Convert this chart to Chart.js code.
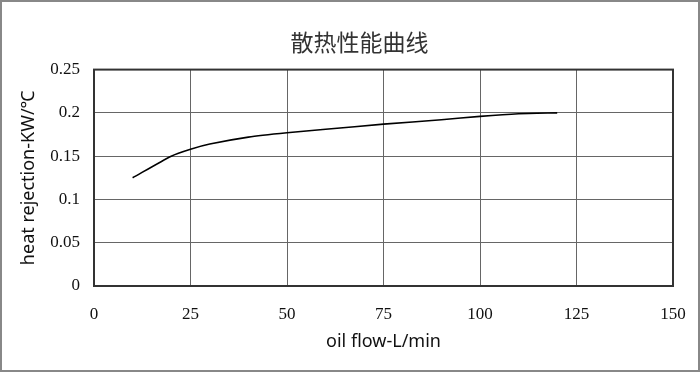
<!DOCTYPE html>
<html>
<head>
<meta charset="utf-8">
<script src="https://cdn.jsdelivr.net/npm/chart.js@4/dist/chart.umd.min.js"></script>
<style>
  html, body { margin: 0; padding: 0; background: #fff; }
  #wrap { width: 700px; height: 372px; position: relative; }
</style>
</head>
<body>
<div id="wrap"><canvas id="grafico"></canvas></div>
<script>
// values
const flow = [10, 20, 25, 30, 40, 50, 60, 75, 90, 100, 110, 120]
const rejection = [0.125, 0.15, 0.158, 0.164, 0.172, 0.177, 0.181, 0.187, 0.192, 0.196, 0.199, 0.2]
const xTicks = [0, 25, 50, 75, 100, 125, 150]
const yTicks = [0, 0.05, 0.1, 0.15, 0.2, 0.25]
const titulo = '散热性能曲线'
const xTitulo = 'oil flow-L/min'
const yTitulo = 'heat rejection-KW/℃'

const serif = "'Liberation Serif', 'DejaVu Serif', serif"
const sans = "'Noto Sans', 'DejaVu Sans', sans-serif"

// white background, grey frame, and title nudged to the right like the original
const moldura = {
    id: 'moldura',
    afterLayout(chart) {
        if (chart.titleBlock) chart.titleBlock.left += 46
    },
    beforeDraw(chart) {
        const c = chart.ctx
        c.save()
        c.fillStyle = '#fff'
        c.fillRect(0, 0, chart.width, chart.height)
        c.restore()
    },
    afterDraw(chart) {
        const c = chart.ctx
        const a = chart.chartArea
        c.save()
        c.strokeStyle = '#333'
        c.lineWidth = 2
        c.strokeRect(a.left, a.top, a.right - a.left, a.bottom - a.top)
        c.strokeStyle = '#888'
        c.lineWidth = 2
        c.strokeRect(1, 1, chart.width - 2, chart.height - 2)
        c.restore()
    }
}

let ctx = document.getElementById('grafico')
new Chart(ctx, {
    type: 'line',
    data: {
        datasets: [{
            data: flow.map((x, i) => ({ x: x, y: rejection[i] })),
            borderColor: '#000',
            borderWidth: 1.6,
            pointRadius: 0,
            tension: 0.2,
            fill: false
        }]
    },
    options: {
        responsive: true,
        maintainAspectRatio: false,
        animation: false,
        layout: { padding: { left: 0, right: 27, top: 0, bottom: 0 } },
        plugins: {
            legend: { display: false },
            tooltip: { enabled: false },
            title: {
                display: true,
                text: titulo,
                color: '#333',
                font: { family: "'Noto Sans CJK SC', sans-serif", size: 23, weight: 'normal', lineHeight: 1.2 },
                padding: { top: 28, bottom: 14 }
            }
        },
        scales: {
            x: {
                type: 'linear',
                min: 0,
                max: 150,
                afterBuildTicks: scale => { scale.ticks = xTicks.map(v => ({ value: v })) },
                afterFit: scale => {
                    scale.height = 86
                    scale.paddingLeft = 0
                    scale.paddingRight = 0
                },
                grid: { color: '#666', lineWidth: 1, drawTicks: false },
                border: { display: false },
                ticks: {
                    color: '#111',
                    padding: 18,
                    maxRotation: 0,
                    font: { family: serif, size: 17 }
                },
                title: {
                    display: true,
                    text: xTitulo,
                    color: '#111',
                    font: { family: sans, size: 18 },
                    padding: { top: 0, bottom: 19 }
                }
            },
            y: {
                min: 0,
                max: 0.25,
                afterBuildTicks: scale => { scale.ticks = yTicks.map(v => ({ value: v })) },
                afterFit: scale => { scale.width = 94 },
                grid: { color: '#666', lineWidth: 1, drawTicks: false },
                border: { display: false },
                ticks: {
                    color: '#111',
                    padding: 14,
                    font: { family: serif, size: 17 },
                    callback: value => `${value}`
                },
                title: {
                    display: true,
                    text: yTitulo,
                    color: '#111',
                    font: { family: sans, size: 18 },
                    padding: { top: 18, bottom: 0 }
                }
            }
        }
    },
    plugins: [moldura]
})
</script>
</body>
</html>
